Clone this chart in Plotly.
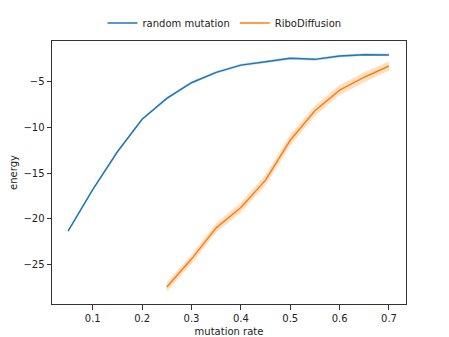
import plotly.graph_objects as go

rate_random = [0.05, 0.10, 0.15, 0.20, 0.25, 0.30, 0.35, 0.40, 0.45, 0.50, 0.55, 0.60, 0.65, 0.70]
energy_random = [-21.35, -16.8, -12.66, -9.1, -6.82, -5.1, -3.97, -3.18, -2.81, -2.44, -2.55, -2.19, -2.04, -2.06]
ci_random = [0.15, 0.15, 0.15, 0.15, 0.15, 0.15, 0.15, 0.15, 0.15, 0.15, 0.15, 0.15, 0.15, 0.15]

rate_ribo = [0.25, 0.30, 0.35, 0.40, 0.45, 0.50, 0.55, 0.60, 0.65, 0.70]
energy_ribo = [-27.45, -24.4, -20.98, -18.75, -15.76, -11.4, -8.17, -5.91, -4.5, -3.28]
ci_ribo = [0.5, 0.5, 0.5, 0.55, 0.55, 0.6, 0.55, 0.55, 0.55, 0.5]

BLUE = "#1f77b4"
ORANGE = "#ff7f0e"

fig = go.Figure()

def add_series(x, y, ci, color, fill, name):
    upper = [v + c for v, c in zip(y, ci)]
    lower = [v - c for v, c in zip(y, ci)]
    fig.add_trace(go.Scatter(x=x + x[::-1], y=upper + lower[::-1], fill="toself",
                             fillcolor=fill, line=dict(width=0), mode="lines",
                             hoverinfo="skip", showlegend=False))
    fig.add_trace(go.Scatter(x=x, y=y, mode="lines", name=name,
                             line=dict(color=color, width=1.5)))

add_series(rate_random, energy_random, ci_random, BLUE, "rgba(31,119,180,0.25)", "random mutation")
add_series(rate_ribo, energy_ribo, ci_ribo, ORANGE, "rgba(255,127,14,0.25)", "RiboDiffusion")

axis_common = dict(showline=True, linecolor="#333333", linewidth=1, mirror=True,
                   ticks="outside", ticklen=4.5, tickcolor="#333333", showgrid=False,
                   zeroline=False, automargin=False, tickfont=dict(size=10, color="#222222"))

fig.update_layout(
    width=449, height=337,
    margin=dict(l=52, r=43, t=41, b=33),
    paper_bgcolor="white", plot_bgcolor="white",
    font=dict(family="DejaVu Sans", size=10, color="#222222"),
    legend=dict(orientation="h", x=0.5, xanchor="center", xref="container",
                y=1 - 23 / 337, yanchor="middle", yref="container",
                font=dict(size=10), bgcolor="rgba(0,0,0,0)"),
    xaxis=dict(range=[0.0175, 0.7345], tickvals=[0.1, 0.2, 0.3, 0.4, 0.5, 0.6, 0.7],
               ticktext=["0.1", "0.2", "0.3", "0.4", "0.5", "0.6", "0.7"],
               title=dict(text="mutation rate", standoff=6, font=dict(size=10)), **axis_common),
    yaxis=dict(range=[-29.31, -0.54], tickvals=[-25, -20, -15, -10, -5],
               ticktext=["\u221225", "\u221220", "\u221215", "\u221210", "\u22125"],
               title=dict(text="energy", standoff=3, font=dict(size=10)), **axis_common),
)

fig.write_html("out.html")
